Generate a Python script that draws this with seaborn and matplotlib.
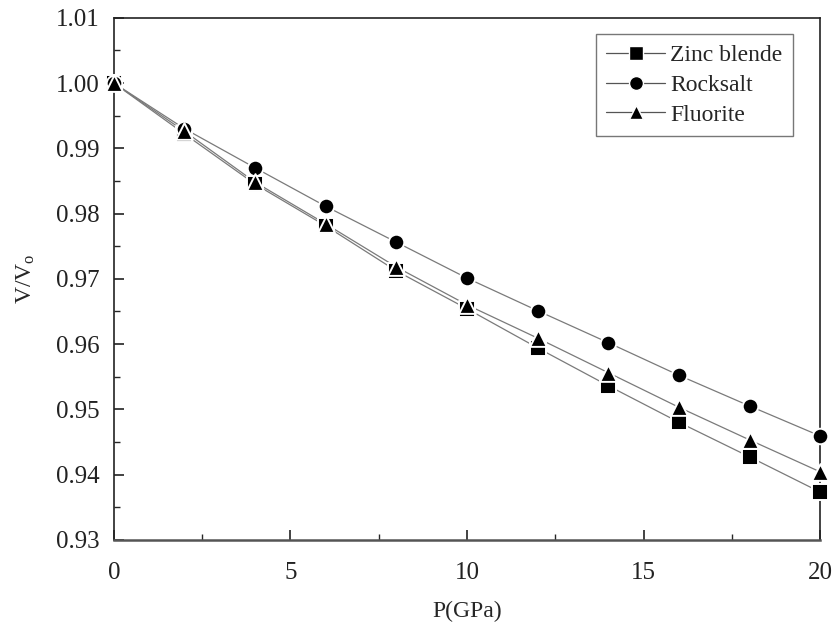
import matplotlib
matplotlib.use("Agg")
import matplotlib.pyplot as plt
from matplotlib.lines import Line2D
from matplotlib.ticker import MultipleLocator
import seaborn as sns
import pandas as pd

pressure = [0, 2, 4, 6, 8, 10, 12, 14, 16, 18, 20]
zinc_blende = [1.000, 0.9922, 0.9845, 0.9781, 0.9712, 0.9654, 0.9594, 0.9536, 0.9480, 0.9427, 0.9373]
rocksalt = [1.000, 0.9930, 0.9870, 0.9811, 0.9756, 0.9701, 0.9651, 0.9602, 0.9552, 0.9505, 0.9459]
fluorite = [1.000, 0.9926, 0.9848, 0.9784, 0.9718, 0.9660, 0.9609, 0.9556, 0.9503, 0.9453, 0.9404]
series_names = ["Zinc blende", "Rocksalt", "Fluorite"]
series_values = [zinc_blende, rocksalt, fluorite]
marker_map = {"Zinc blende": "s", "Rocksalt": "o", "Fluorite": "^"}

rows = []
for name, vals in zip(series_names, series_values):
    for p, v in zip(pressure, vals):
        rows.append({"P": p, "V": v, "Structure": name})
df = pd.DataFrame(rows)

sns.set_theme(style="ticks")
plt.rcParams['font.family'] = ['Liberation Serif', 'DejaVu Serif']
plt.rcParams['mathtext.fontset'] = 'custom'
plt.rcParams['mathtext.rm'] = 'Liberation Serif'
plt.rcParams['mathtext.it'] = 'Liberation Serif:italic'

fig = plt.figure(figsize=(8.37, 6.35), dpi=100)
ax = fig.add_axes([0.136, 0.150, 0.844, 0.822])

# connecting lines (grey)
sns.lineplot(data=df, x="P", y="V", hue="Structure", hue_order=series_names,
             palette=["#7a7a7a"] * 3, linewidth=0.9, legend=False, ax=ax, zorder=1)
# markers (black with white halo)
for name in series_names:
    sub = df[df["Structure"] == name]
    sns.scatterplot(data=sub, x="P", y="V", marker=marker_map[name], color="black",
                    s=125 if name != "Fluorite" else 145, edgecolor="white", linewidth=1.4,
                    legend=False, ax=ax, zorder=3, clip_on=False)

ax.set_xlim(0, 20)
ax.set_ylim(0.93, 1.01)
ax.xaxis.set_major_locator(MultipleLocator(5))
ax.xaxis.set_minor_locator(MultipleLocator(2.5))
ax.yaxis.set_major_locator(MultipleLocator(0.01))
ax.yaxis.set_minor_locator(MultipleLocator(0.005))
ax.yaxis.set_major_formatter(matplotlib.ticker.FormatStrFormatter('%.2f'))
ax.tick_params(which='major', direction='in', length=7, width=1.2, labelsize=18,
               top=False, right=False, colors='#222222')
ax.tick_params(which='minor', direction='in', length=4, width=1.0, top=False, right=False)
ax.tick_params(axis='y', pad=10)
ax.tick_params(axis='x', pad=16)
for side in ['left', 'right', 'top', 'bottom']:
    ax.spines[side].set_visible(True)
    ax.spines[side].set_color('#222222')
    ax.spines[side].set_linewidth(1.2)
ax.spines['bottom'].set_linewidth(1.8)
ax.spines['bottom'].set_color('#555555')

ax.set_xlabel("P(GPa)", fontsize=17, labelpad=12)
ax.set_ylabel("V/V$_\\mathrm{o}$", fontsize=17, labelpad=14)

handles = [Line2D([0], [0], color="#555555", linewidth=0.9, marker=marker_map[n],
                  markersize=10, markerfacecolor="black", markeredgecolor="white",
                  markeredgewidth=1.0) for n in series_names]
leg = ax.legend(handles, series_names, loc="upper right", bbox_to_anchor=(0.968, 0.978),
                fontsize=17, frameon=True, fancybox=False, edgecolor="#555555",
                handlelength=2.5, handletextpad=0.2, borderpad=0.45, labelspacing=0.35,
                borderaxespad=0.2)
leg.get_frame().set_linewidth(1.0)

fig.savefig("out.png", dpi=100)
